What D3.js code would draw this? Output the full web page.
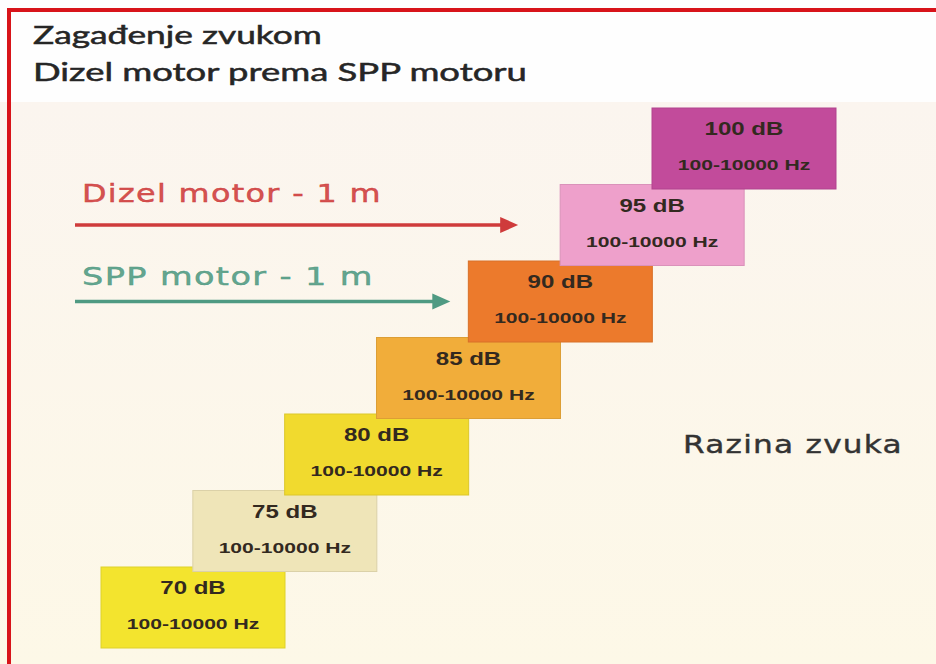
<!DOCTYPE html>
<html>
<head>
<meta charset="utf-8">
<script src="https://cdn.jsdelivr.net/npm/d3@7"></script>
<style>
  html, body { margin: 0; padding: 0; background: #fff; }
  svg { display: block; }
</style>
</head>
<body>
<div id="root"></div>
<script>
'use strict';

// data
var levels = [70, 75, 80, 85, 90, 95, 100];
var levelLabels = ['70 dB', '75 dB', '80 dB', '85 dB', '90 dB', '95 dB', '100 dB'];
var freqLabels = ['100-10000 Hz', '100-10000 Hz', '100-10000 Hz', '100-10000 Hz',
                  '100-10000 Hz', '100-10000 Hz', '100-10000 Hz'];
var boxColors = ['#f3e42e', '#efe5b8', '#f1da2e', '#f1ad3a', '#ec7a2c', '#eea0cb', '#c24b9b'];

var sources = ['Dizel motor - 1 m', 'SPP motor - 1 m'];
var sourceLevels = [95, 90];
var sourceColors = ['#cf3b3b', '#4f9a82'];
var sourceTipGap = [42, 18];

var titleLines = ['Zagađenje zvukom', 'Dizel motor prema SPP motoru'];
var axisTitle = 'Razina zvuka';

var width = 936, height = 664;
var boxW = 184, boxH = 81;

var svg = d3.select('#root').append('svg')
  .attr('width', width)
  .attr('height', height);

// background
var defs = svg.append('defs');
var grad = defs.append('linearGradient').attr('id', 'bg')
  .attr('x1', 0).attr('y1', 0).attr('x2', 0).attr('y2', 1);
grad.append('stop').attr('offset', '0%').attr('stop-color', '#fbf5ef');
grad.append('stop').attr('offset', '100%').attr('stop-color', '#fdf8e7');

svg.append('rect').attr('width', width).attr('height', height).attr('fill', '#fefefe');
svg.append('rect').attr('x', 0).attr('y', 102).attr('width', width).attr('height', height - 102)
  .attr('fill', 'url(#bg)');

// red frame (top + left)
svg.append('rect').attr('x', 7).attr('y', 8).attr('width', width - 7).attr('height', 4).attr('fill', '#d8141a');
svg.append('rect').attr('x', 7).attr('y', 8).attr('width', 4).attr('height', height - 8).attr('fill', '#d8141a');

// stretch a text horizontally to a target width
function fitText(sel, target){
  var len = sel.node().getComputedTextLength();
  var x = +sel.attr('data-x'), y = +sel.attr('data-y');
  sel.attr('transform', 'translate(' + x + ',' + y + ') scale(' + (target / len) + ',1)');
}

// title
var titleWidths = [289, 494];
titleLines.forEach(function(t, i){
  var txt = svg.append('text')
    .attr('data-x', 33).attr('data-y', 44 + i * 37)
    .attr('font-family', 'Lato, "Open Sans", sans-serif')
    .attr('font-size', 25)
    .attr('fill', '#262626')
    .attr('stroke', '#262626')
    .attr('stroke-width', 0.5)
    .text(t);
  fitText(txt, titleWidths[i]);
});

// scales
var x = d3.scaleLinear().domain([70, 100]).range([101, 652]);
var y = d3.scaleLinear().domain([70, 100]).range([567, 108]);

// level boxes
var box = svg.append('g').attr('class', 'levels')
  .selectAll('g')
  .data(levels)
  .enter().append('g')
  .attr('transform', function(d){ return 'translate(' + x(d) + ',' + y(d) + ')'; });

box.append('rect')
  .attr('width', boxW)
  .attr('height', boxH)
  .attr('fill', function(d, i){ return boxColors[i]; })
  .attr('stroke', function(d, i){ return d3.color(boxColors[i]).darker(0.25); })
  .attr('stroke-width', 1);

box.append('text')
  .attr('transform', 'translate(' + (boxW / 2) + ',27) scale(1.3,1)')
  .attr('text-anchor', 'middle')
  .attr('font-family', '"Liberation Sans", Arial, sans-serif')
  .attr('font-weight', 'bold')
  .attr('font-size', 18.5)
  .attr('fill', '#33291f')
  .text(function(d, i){ return levelLabels[i]; });

box.append('text')
  .attr('transform', 'translate(' + (boxW / 2) + ',62) scale(1.36,1)')
  .attr('text-anchor', 'middle')
  .attr('font-family', '"Liberation Sans", Arial, sans-serif')
  .attr('font-weight', 'bold')
  .attr('font-size', 15.5)
  .attr('fill', '#33291f')
  .text(function(d, i){ return freqLabels[i]; });

// source arrows
var labelWidths = [300, 292];
sources.forEach(function(s, i){
  var ay = y(sourceLevels[i]) + boxH / 2;
  var tip = x(sourceLevels[i]) - sourceTipGap[i];
  var c = sourceColors[i];

  svg.append('line')
    .attr('x1', 75).attr('y1', ay)
    .attr('x2', tip - 14).attr('y2', ay)
    .attr('stroke', c)
    .attr('stroke-width', 3.5);

  svg.append('path')
    .attr('d', 'M' + (tip - 18) + ',' + (ay - 8) + 'L' + tip + ',' + ay + 'L' + (tip - 18) + ',' + (ay + 8) + 'Z')
    .attr('fill', c);

  var lbl = svg.append('text')
    .attr('data-x', 82).attr('data-y', ay - (i === 0 ? 23 : 17))
    .attr('font-family', '"DejaVu Sans", sans-serif')
    .attr('font-size', 24)
    .attr('fill', c)
    .attr('stroke', c)
    .attr('stroke-width', 0.4)
    .attr('fill-opacity', 0.9)
    .attr('letter-spacing', 1)
    .text(s);
  fitText(lbl, labelWidths[i]);
});

// axis title
var at = svg.append('text')
  .attr('data-x', 683).attr('data-y', 453)
  .attr('font-family', '"DejaVu Sans", sans-serif')
  .attr('font-size', 25)
  .attr('fill', '#333')
  .attr('stroke', '#333')
  .attr('stroke-width', 0.4)
  .attr('letter-spacing', 1)
  .text(axisTitle);
fitText(at, 220);
</script>
</body>
</html>
